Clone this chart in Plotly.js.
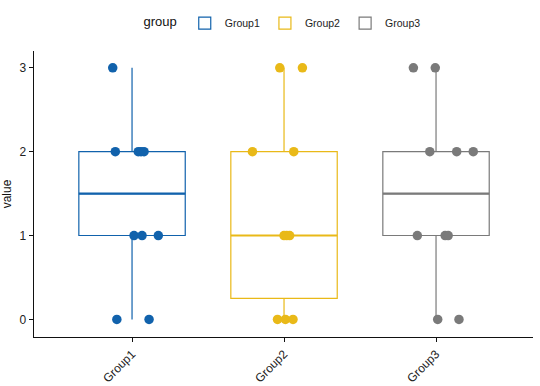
<!DOCTYPE html>
<html>
<head>
<meta charset="utf-8">
<script src="https://cdn.plot.ly/plotly-3.0.1.min.js"></script>
<style>html,body{margin:0;padding:0;background:#fff}#chart{width:540px;height:386px}</style>
</head>
<body>
<div id="chart"></div>
<script>
// ---- data ----
var categories = ["Group1", "Group2", "Group3"];
var group1Values = [3, 2, 2, 2, 2, 1, 1, 1, 0, 0];
var group2Values = [3, 3, 2, 2, 1, 1, 1, 0, 0, 0];
var group3Values = [3, 3, 2, 2, 2, 1, 1, 1, 0, 0];
// horizontal jitter (styling, in category-width units)
var group1Jitter = [-0.127, -0.11, 0.041, 0.059, 0.079, 0.013, 0.066, 0.173, -0.10, 0.112];
var group2Jitter = [-0.028, 0.121, -0.208, 0.064, 0.0, 0.018, 0.037, -0.043, 0.009, 0.059];
var group3Jitter = [-0.149, -0.005, -0.041, 0.136, 0.245, -0.123, 0.06, 0.08, 0.011, 0.151];

var colors = ["#1162AC", "#E9B918", "#7A7A7A"];
var allValues = [group1Values, group2Values, group3Values];
var allJitter = [group1Jitter, group2Jitter, group3Jitter];

function quantile7(arr, p) {
  var s = arr.slice().sort(function(a, b){return a - b;});
  var h = (s.length - 1) * p, lo = Math.floor(h), hi = Math.ceil(h);
  return s[lo] + (h - lo) * (s[hi] - s[lo]);
}

var traces = [];
var boxWidth = 0.7;
categories.forEach(function(cat, i) {
  var v = allValues[i];
  var q1 = quantile7(v, 0.25), med = quantile7(v, 0.5), q3 = quantile7(v, 0.75);
  var iqr = q3 - q1;
  var lo = Math.min.apply(null, v.filter(function(d){return d >= q1 - 1.5 * iqr;}));
  var hi = Math.max.apply(null, v.filter(function(d){return d <= q3 + 1.5 * iqr;}));
  traces.push({
    type: "box", name: cat, x: [i], q1: [q1], median: [med], q3: [q3],
    lowerfence: [lo], upperfence: [hi], width: boxWidth, whiskerwidth: 0,
    line: {color: colors[i], width: 1.2}, fillcolor: "#ffffff",
    boxpoints: false, hoverinfo: "skip", showlegend: true, legendgroup: cat
  });
  traces.push({
    type: "scatter", mode: "lines", x: [i - boxWidth / 2, i + boxWidth / 2], y: [med, med],
    line: {color: colors[i], width: 2.2}, showlegend: false, hoverinfo: "skip", legendgroup: cat
  });
  traces.push({
    type: "scatter", mode: "markers",
    x: v.map(function(d, k){ return i + allJitter[i][k]; }), y: v,
    marker: {color: colors[i], size: 9.5}, showlegend: false, legendgroup: cat
  });
});

var layout = {
  width: 540, height: 386,
  margin: {l: 34, r: 7, t: 51, b: 48.5},
  paper_bgcolor: "#ffffff", plot_bgcolor: "#ffffff",
  font: {family: "Arial, 'Liberation Sans', sans-serif", color: "#000"},
  showlegend: true,
  legend: {
    orientation: "h", x: 0.5, xanchor: "center", xref: "paper",
    y: 0.94, yref: "container", yanchor: "middle",
    font: {size: 10.5, color: "#222"},
    title: {text: "group", font: {size: 13, color: "#111", weight: "normal"}, side: "left"},
    itemwidth: 30, traceorder: "normal"
  },
  xaxis: {
    range: [-0.645, 2.638], tickvals: [0, 1, 2], ticktext: categories,
    tickangle: -45, tickfont: {size: 12, color: "#222"}, ticklabelstandoff: 0,
    showgrid: false, zeroline: false, showline: true, linecolor: "#111", linewidth: 1.3,
    ticks: "outside", ticklen: 4, tickcolor: "#111", tickwidth: 1
  },
  yaxis: {
    range: [-0.21, 3.2], tickvals: [0, 1, 2, 3], ticktext: ["0", "1", "2", "3"],
    tickfont: {size: 12, color: "#222"},
    title: {text: "value", font: {size: 12, color: "#111"}, standoff: 8},
    showgrid: false, zeroline: false, showline: true, linecolor: "#111", linewidth: 1.3,
    ticks: "outside", ticklen: 4, tickcolor: "#111", tickwidth: 1
  }
};

Plotly.newPlot("chart", traces, layout, {displayModeBar: false, staticPlot: true});
</script>
</body>
</html>
